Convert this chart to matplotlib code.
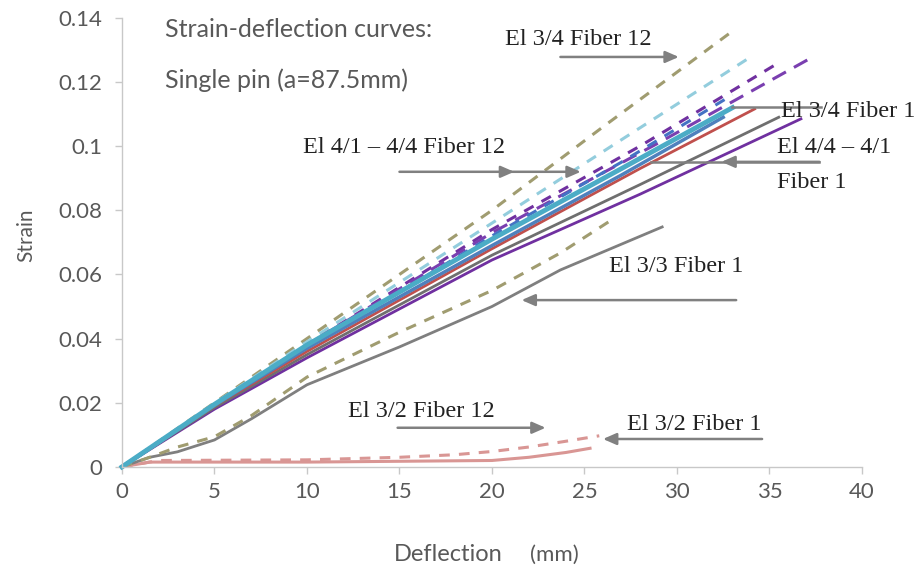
import matplotlib
matplotlib.use('Agg')
import matplotlib.pyplot as plt

# values (deflection in mm, strain)
x_34_f12 = [0, 5, 10, 20, 26, 32.8]
y_34_f12 = [0, 0.020, 0.040, 0.080, 0.106, 0.135]

x_lblue_f12 = [0, 5, 10, 20, 27, 33.9]
y_lblue_f12 = [0, 0.0198, 0.039, 0.076, 0.102, 0.1275]

x_purp_f12a = [0, 5, 10, 20, 28, 35.5]
y_purp_f12a = [0, 0.0195, 0.038, 0.074, 0.100, 0.126]

x_purp_f12b = [0, 5, 10, 20, 29, 37.4]
y_purp_f12b = [0, 0.0195, 0.038, 0.073, 0.101, 0.128]

x_blue_f12 = [0, 5, 10, 20, 27, 33]
y_blue_f12 = [0, 0.019, 0.037, 0.072, 0.095, 0.116]

x_olive_low = [0, 1.5, 3, 5, 7, 10, 15, 20, 23.7, 26.6]
y_olive_low = [0, 0.003, 0.0062, 0.0094, 0.016, 0.028, 0.042, 0.055, 0.0667, 0.0775]

x_32_f12 = [0, 2, 10, 15, 18, 20, 22, 24, 25.8]
y_32_f12 = [0, 0.002, 0.0022, 0.003, 0.0038, 0.0048, 0.0062, 0.008, 0.0097]

x_32_f1 = [0, 1.5, 10, 20, 22, 24, 25.3]
y_32_f1 = [0, 0.0015, 0.0015, 0.002, 0.003, 0.0045, 0.0058]

x_33_f1 = [0, 1.5, 3, 5, 7, 10, 15, 20, 23.7, 29.2]
y_33_f1 = [0, 0.003, 0.0047, 0.0084, 0.015, 0.0256, 0.0374, 0.050, 0.0614, 0.0748]

x_purp_f1 = [0, 5, 10, 20, 28, 36.7]
y_purp_f1 = [0, 0.018, 0.034, 0.0645, 0.085, 0.1085]

x_gray_f1 = [0, 5, 10, 20, 28, 35.5]
y_gray_f1 = [0, 0.0185, 0.035, 0.066, 0.088, 0.109]

x_red_f1 = [0, 5, 10, 20, 28, 34.2]
y_red_f1 = [0, 0.019, 0.036, 0.068, 0.093, 0.1116]

x_blue_f1 = [0, 5, 10, 20, 27, 32.5]
y_blue_f1 = [0, 0.0192, 0.037, 0.069, 0.091, 0.109]

x_34_f1 = [0, 5, 10, 20, 27, 33]
y_34_f1 = [0, 0.0195, 0.038, 0.071, 0.093, 0.112]

x_ticks = [0, 5, 10, 15, 20, 25, 30, 35, 40]
y_ticks = [0, 0.02, 0.04, 0.06, 0.08, 0.1, 0.12, 0.14]
y_tick_labels = ['0', '0.02', '0.04', '0.06', '0.08', '0.1', '0.12', '0.14']

fig = plt.figure(figsize=(9.17, 5.75), dpi=100)
ax = fig.add_axes([0.133, 0.188, 0.807, 0.781])

dash = (3.5, 3)
ax.plot(x_32_f1, y_32_f1, color='#d99694', lw=2.2, clip_on=False)
ax.plot(x_32_f12, y_32_f12, color='#d99694', lw=2.2, dashes=dash, clip_on=False)
ax.plot(x_33_f1, y_33_f1, color='#7f7f7f', lw=2, clip_on=False)
ax.plot(x_olive_low, y_olive_low, color='#a09c70', lw=2.2, dashes=dash, clip_on=False)
ax.plot(x_34_f12, y_34_f12, color='#a09c70', lw=2.2, dashes=dash, clip_on=False)
ax.plot(x_lblue_f12, y_lblue_f12, color='#93cddd', lw=2.2, dashes=dash, clip_on=False)
ax.plot(x_purp_f12a, y_purp_f12a, color='#7030a0', lw=2.2, dashes=dash, clip_on=False)
ax.plot(x_purp_f12b, y_purp_f12b, color='#7a3fb0', lw=2.2, dashes=(5, 3), clip_on=False)
ax.plot(x_blue_f12, y_blue_f12, color='#4472c4', lw=2.2, dashes=dash, clip_on=False)
ax.plot(x_purp_f1, y_purp_f1, color='#7030a0', lw=2, clip_on=False)
ax.plot(x_gray_f1, y_gray_f1, color='#6f6f6f', lw=2, clip_on=False)
ax.plot(x_red_f1, y_red_f1, color='#c0504d', lw=2, clip_on=False)
ax.plot(x_blue_f1, y_blue_f1, color='#4f81bd', lw=2.5, clip_on=False)
ax.plot(x_34_f1, y_34_f1, color='#4bacc6', lw=3.5, clip_on=False)

ax.set_xlim(0, 40)
ax.set_ylim(0, 0.14)
ax.set_xticks(x_ticks)
ax.set_yticks(y_ticks)
ax.set_yticklabels(y_tick_labels)
for s in ['top', 'right']:
    ax.spines[s].set_visible(False)
for s in ['left', 'bottom']:
    ax.spines[s].set_color('#c8c8c8')
    ax.spines[s].set_linewidth(1)
ax.tick_params(axis='both', colors='#c8c8c8', length=5, width=1,
               labelcolor='#595959', labelsize=16)
ax.tick_params(axis='y', pad=9)
ax.tick_params(axis='x', pad=6)
for lab in ax.get_xticklabels() + ax.get_yticklabels():
    lab.set_family('Lato')

sans = dict(family='Lato', color='#595959')
ax.text(2.3, 0.1363, 'Strain-deflection curves:', fontsize=18, va='center', **sans)
ax.text(2.3, 0.1207, 'Single pin (a=87.5mm)', fontsize=18, va='center', **sans)
fig.text(0.029, 0.59, 'Strain', rotation=90, fontsize=15, ha='center', va='center', **sans)
fig.text(0.430, 0.035, 'Deflection', fontsize=17, ha='left', va='center', **sans)
fig.text(0.578, 0.035, '(mm)', fontsize=16, ha='left', va='center', **sans)

serif = dict(family='Liberation Serif', color='#222222', fontsize=17.5)
arrow = dict(arrowstyle='-|>,head_length=0.8,head_width=0.35', color='#808080', lw=1.8,
             shrinkA=0, shrinkB=0)
gray = '#808080'

ax.text(20.7, 0.1331, 'El 3/4 Fiber 12', va='center', ha='left', **serif)
ax.annotate('', xy=(30.1, 0.1278), xytext=(23.7, 0.1278), arrowprops=arrow)

ax.text(35.6, 0.1107, 'El 3/4 Fiber 1', va='center', ha='left', **serif)
ax.plot([33.0, 37.8], [0.1122, 0.1122], color=gray, lw=1.8)

ax.text(35.4, 0.0995, 'El 4/4 – 4/1', va='center', ha='left', **serif)
ax.text(35.4, 0.0888, 'Fiber 1', va='center', ha='left', **serif)
ax.plot([28.6, 37.7], [0.0951, 0.0951], color=gray, lw=1.8)
ax.annotate('', xy=(32.4, 0.0951), xytext=(37.7, 0.0951), arrowprops=arrow)

ax.text(9.8, 0.0995, 'El 4/1 – 4/4 Fiber 12', va='center', ha='left', **serif)
ax.annotate('', xy=(21.2, 0.092), xytext=(15.0, 0.092), arrowprops=arrow)
ax.annotate('', xy=(24.8, 0.092), xytext=(21.0, 0.092), arrowprops=arrow)

ax.text(26.3, 0.0624, 'El 3/3 Fiber 1', va='center', ha='left', **serif)
ax.annotate('', xy=(21.6, 0.052), xytext=(33.2, 0.052), arrowprops=arrow)

ax.text(12.2, 0.0172, 'El 3/2 Fiber 12', va='center', ha='left', **serif)
ax.annotate('', xy=(22.9, 0.0122), xytext=(14.9, 0.0122), arrowprops=arrow)

ax.text(27.3, 0.0131, 'El 3/2 Fiber 1', va='center', ha='left', **serif)
ax.annotate('', xy=(26.0, 0.0087), xytext=(34.6, 0.0087), arrowprops=arrow)

fig.savefig('out.png', dpi=100)
